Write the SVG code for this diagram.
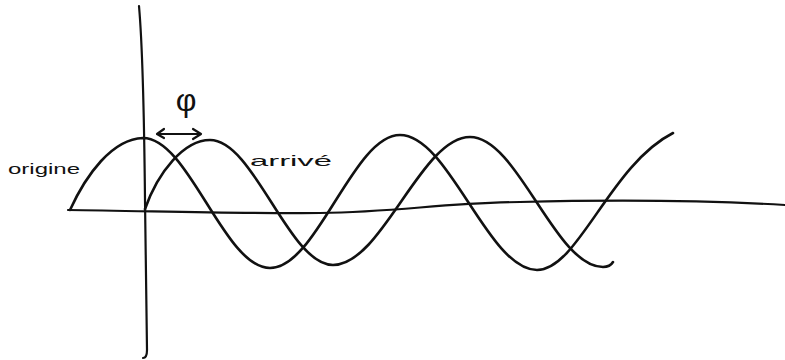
<svg xmlns="http://www.w3.org/2000/svg" width="785" height="360" viewBox="0 0 785 360">
<style>
.ln{fill:none;stroke:#111;stroke-width:2.6;stroke-linecap:round;stroke-linejoin:round}
.ax{fill:none;stroke:#111;stroke-width:2.2;stroke-linecap:round}
.lbl{font-family:"Liberation Sans","DejaVu Sans",sans-serif;fill:#111}
</style>
<rect width="785" height="360" fill="#fff"/>
<g id="axes">
<path class="ax" d="M139,6 C142,40 144,100 145,200 L147,350 Q147,358 143,358"/>
<path class="ax" d="M68,210 C150,211 250,214 320,213 C400,212 440,203 520,202 C600,200 700,200 785,205"/>
</g>
<g id="curve-origine">
<path class="ln" d="M70,210 C86,175 112,139 143,138 C189,138 224,268 270,268 C317,268 353,135 400,135 C449,135 488,270 537,270 C578,270 610,165 673,133"/>
</g>
<g id="curve-arrive">
<path class="ln" d="M145,209 C158,172 184,140 210,140 C254,140 289,265 333,265 C382,265 421,137 470,137 C518,137 555,267 603,267 Q610,267 613,262"/>
</g>
<g id="phase">
<path class="ln" style="stroke-width:2.2" d="M157,134 L200,134 M164,129 L157,134 L164,138 M193,129 L201,134 L193,139"/>
<text class="lbl" x="186" y="111" font-size="32" text-anchor="middle">φ</text>
</g>
<g id="labels">
<text class="lbl" x="8" y="174" font-size="15" textLength="72" lengthAdjust="spacingAndGlyphs">origine</text>
<text class="lbl" x="250" y="166" font-size="15" textLength="82" lengthAdjust="spacingAndGlyphs">arrivé</text>
</g>
</svg>
